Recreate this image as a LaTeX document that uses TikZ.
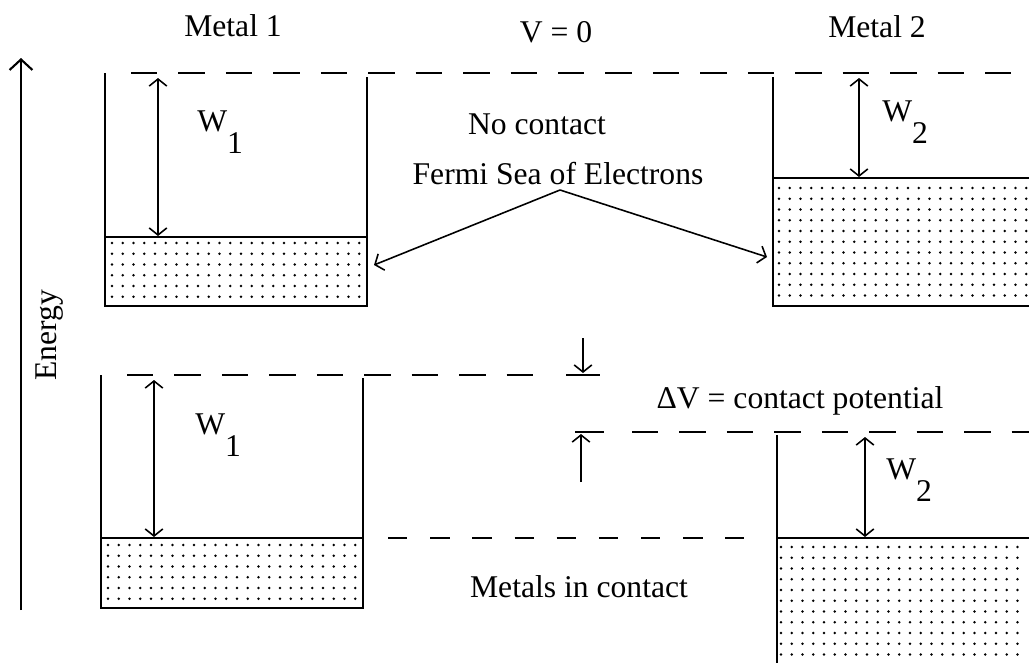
\documentclass[tikz,border=0pt]{standalone}
\usepackage{fontspec}
\setmainfont{Liberation Serif}
\usetikzlibrary{arrows.meta,positioning}

% dots of a Fermi sea: x and y of the first dot, columns, rows
\newcommand{\seadots}[4]{%
  \foreach \i in {1,...,#3}{%
    \foreach \j in {1,...,#4}{%
      \fill ({#1+(\i-1)*10.75},{#2+(\j-1)*10.75}) circle (0.75pt);
    }%
  }%
}

\begin{document}
\begin{tikzpicture}[
  x=0.2mm,y=-0.2mm,
  every node/.style={font=\fontsize{18}{20}\selectfont,inner sep=0pt},
  wall/.style={line width=1.2pt},
  vac/.style={line width=1.2pt,dash pattern=on 15pt off 12pt},
  gapline/.style={line width=1.2pt,dash pattern=on 11pt off 13pt},
  dim/.style={line width=0.9pt,{Straight Barb[length=4pt,width=10pt]}-{Straight Barb[length=4pt,width=10pt]}},
  ptr/.style={line width=0.9pt,-{Straight Barb[length=4pt,width=10pt]}},
  lbl/.style={anchor=north west},
]
\useasboundingbox (0,0) rectangle (1029,663);

% headings
\node (m1) at (233,26) {Metal 1};
\node (v0) at (556,32) {V = 0};
\node (m2) at (877,27) {Metal 2};

% energy axis
\coordinate (ebot) at (21,610);
\coordinate (etop) at (21,58);
\draw[line width=1.2pt,-{Straight Barb[length=6pt,width=13pt]}] (ebot) -- (etop);
\node[rotate=90] (en) at (50,335) {Energy};

% no contact: vacuum level
\draw[vac] (131,73) -- (1029,73);

% Metal 1 (top)
\seadots{112}{243}{24}{6}
\draw[wall] (105,73) -- (105,306) -- (367,306) -- (367,77);
\draw[wall] (105,237) -- (367,237);
\coordinate (t1a) at (158,78);
\coordinate (t1b) at (158,236);
\draw[dim] (t1a) -- (t1b);
\node[lbl] (tw1) at (197,110) {W\raisebox{-12.5pt}{1}};

% Metal 2 (top)
\seadots{779}{188}{24}{11}
\draw[wall] (773,77) -- (773,306) -- (1029,306);
\draw[wall] (773,178) -- (1029,178);
\coordinate (t2a) at (859,78);
\coordinate (t2b) at (859,177);
\draw[dim] (t2a) -- (t2b);
\node[lbl] (tw2) at (882,100) {W\raisebox{-12.5pt}{2}};

% labels between the metals
\node (nc) at (537,124) {No contact};
\node (fs) at (558,174) {Fermi Sea of Electrons};
\coordinate (apex) at (560,190);
\coordinate (fs1) at (374,265);
\coordinate (fs2) at (767,257);
\draw[ptr] (apex) -- (fs1);
\draw[ptr] (apex) -- (fs2);

% metals in contact: vacuum levels and contact potential
\draw[vac] (127,375) -- (552,375);
\draw[wall] (566,375) -- (600,375);
\coordinate (dva) at (583,338);
\coordinate (dvb) at (583,373);
\draw[ptr] (dva) -- (dvb);
\node (dv) at (800,401) {ΔV = contact potential};
\draw[wall] (575,432) -- (604,432);
\draw[vac] (632,432) -- (1029,432);
\coordinate (dvc) at (581,482);
\coordinate (dvd) at (581,434);
\draw[ptr] (dvc) -- (dvd);
\draw[gapline] (388,538) -- (744,538);
\node (mc) at (579,587) {Metals in contact};

% Metal 1 (bottom)
\seadots{108}{545}{24}{6}
\draw[wall] (101,375) -- (101,608) -- (363,608) -- (363,378);
\draw[wall] (101,538) -- (363,538);
\coordinate (b1a) at (154,380);
\coordinate (b1b) at (154,537);
\draw[dim] (b1a) -- (b1b);
\node[lbl] (bw1) at (195,413) {W\raisebox{-12.5pt}{1}};

% Metal 2 (bottom)
\seadots{781}{547}{23}{11}
\draw[wall] (777,435) -- (777,663);
\draw[wall] (777,538) -- (1029,538);
\coordinate (b2a) at (865,437);
\coordinate (b2b) at (865,537);
\draw[dim] (b2a) -- (b2b);
\node[lbl] (bw2) at (886,458) {W\raisebox{-12.5pt}{2}};

\end{tikzpicture}
\end{document}
